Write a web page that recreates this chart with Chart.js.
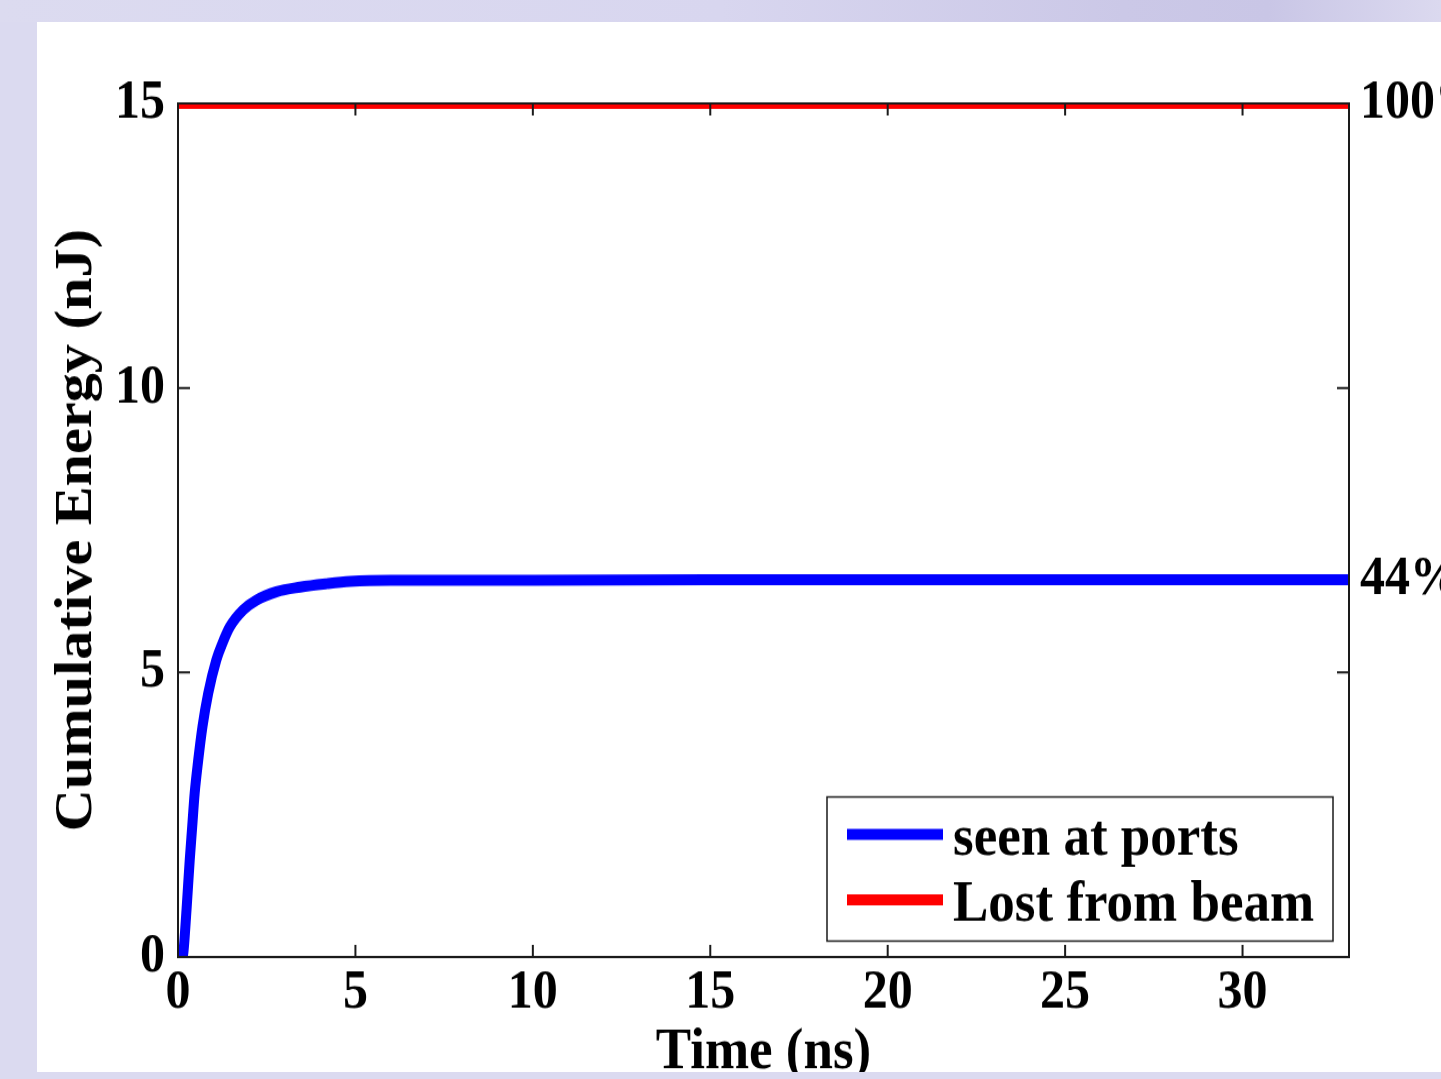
<!DOCTYPE html>
<html lang="en">

<head>
    <meta charset="UTF-8">
    <meta name="viewport" content="width=device-width, initial-scale=1.0">
    <title>Cumulative Energy</title>
    <script src="https://cdn.jsdelivr.net/npm/chart.js"></script>
    <style>
        body {
            margin: 0;
            width: 1441px;
            height: 1079px;
            overflow: hidden;
            position: relative;
            background: #dbdaf0;
        }

        .faixa {
            position: absolute;
            left: 0;
            top: 0;
            width: 1441px;
            height: 22px;
            background: linear-gradient(to right, #dcdbf0 0%, #d8d6ef 50%, #cbc8e7 78%, #c9c6e6 88%, #dbd9ef 100%);
        }

        .painel {
            position: absolute;
            left: 37px;
            top: 22px;
            width: 1404px;
            height: 1050px;
            background: #fff;
            overflow: hidden;
        }

        /* the figure text is a little taller than wide, so the whole plot is stretched */
        .esticado {
            position: absolute;
            left: 0;
            top: 0;
            transform: scaleY(1.1);
            transform-origin: 0 0;
        }
    </style>
</head>

<body>
    <div class="faixa"></div>
    <div class="painel">
        <div class="esticado">
            <canvas id="energia" width="1404" height="980"></canvas>
        </div>
    </div>
</body>

</html>
<script>
    // energy seen at the ports (nJ) against time (ns)
    const timeNs = [0.12, 0.15, 0.24, 0.33, 0.40, 0.47, 0.57, 0.69, 0.85, 1.08, 1.25, 1.46, 1.84, 2.21, 2.78, 3.44, 4.19, 4.85, 6, 8, 10, 15, 20, 25, 30, 33];
    const portsEnergy = [0, 0.07, 0.83, 1.70, 2.29, 2.88, 3.46, 4.05, 4.63, 5.22, 5.51, 5.80, 6.10, 6.27, 6.42, 6.50, 6.56, 6.60, 6.62, 6.62, 6.62, 6.63, 6.63, 6.63, 6.63, 6.63];

    // energy lost from the beam (nJ)
    const beamTime = [0, 33];
    const beamEnergy = [15, 15];

    const xTicks = [0, 5, 10, 15, 20, 25, 30];
    const yTicks = [0, 5, 10, 15];
    const seriesNames = ['seen at ports', 'Lost from beam'];
    const seriesColors = ['#0000ff', '#ff0000'];

    const total = beamEnergy[beamEnergy.length - 1];
    const pctTicks = [total, portsEnergy[portsEnergy.length - 1]];

    const serif = 'Liberation Serif, Times New Roman, serif';
    const tickFont = { family: serif, size: 50, weight: 'bold' };
    const titleFont = { family: serif, size: 53, weight: 'bold' };

    function pares(xs, ys) {
        return xs.map((t, i) => ({ x: t, y: ys[i] }));
    }

    // box round the axes with the ticks pointing inwards
    const moldura = {
        id: 'moldura',
        afterDatasetsDraw(chart) {
            const { ctx, chartArea: a, scales } = chart;
            ctx.save();
            ctx.strokeStyle = '#1a1a1a';
            ctx.lineWidth = 2;
            ctx.beginPath();
            xTicks.forEach(v => {
                const px = scales.x.getPixelForValue(v);
                ctx.moveTo(px, a.bottom);
                ctx.lineTo(px, a.bottom - 11);
                ctx.moveTo(px, a.top);
                ctx.lineTo(px, a.top + 11);
            });
            yTicks.forEach(v => {
                const py = scales.y.getPixelForValue(v);
                ctx.moveTo(a.left, py);
                ctx.lineTo(a.left + 12, py);
                ctx.moveTo(a.right, py);
                ctx.lineTo(a.right - 12, py);
            });
            ctx.stroke();
            ctx.strokeRect(a.left, a.top, a.width, a.height);
            ctx.restore();
        }
    };

    // legend box in the lower right corner
    const legenda = {
        id: 'legenda',
        afterDraw(chart) {
            const { ctx, chartArea: a } = chart;
            const w = 506, h = 131;
            const left = a.right - 16 - w;
            const top = a.bottom - 14.5 - h;
            ctx.save();
            ctx.fillStyle = '#fff';
            ctx.fillRect(left, top, w, h);
            ctx.strokeStyle = '#1a1a1a';
            ctx.lineWidth = 1.5;
            ctx.strokeRect(left, top, w, h);
            ctx.font = 'bold 53px ' + serif;
            ctx.textBaseline = 'alphabetic';
            ctx.textAlign = 'left';
            const rows = [34, 93.5];
            seriesNames.forEach((nome, i) => {
                const yy = top + rows[i];
                ctx.strokeStyle = seriesColors[i];
                ctx.lineWidth = 10;
                ctx.beginPath();
                ctx.moveTo(left + 20, yy);
                ctx.lineTo(left + 116, yy);
                ctx.stroke();
                ctx.fillStyle = '#000';
                ctx.fillText(nome, left + 126, yy + 18.5);
            });
            ctx.restore();
        }
    };

    new Chart(document.getElementById('energia'), {
        type: 'line',
        data: {
            datasets: [{
                label: seriesNames[0],
                data: pares(timeNs, portsEnergy),
                borderColor: seriesColors[0],
                borderWidth: 10,
                pointRadius: 0,
                cubicInterpolationMode: 'monotone',
                clip: 0
            }, {
                label: seriesNames[1],
                data: pares(beamTime, beamEnergy),
                borderColor: seriesColors[1],
                borderWidth: 10,
                pointRadius: 0,
                clip: 0
            }]
        },
        options: {
            responsive: false,
            animation: false,
            layout: { padding: { top: 74, left: 0, right: 0, bottom: 0 } },
            plugins: {
                legend: { display: false },
                tooltip: { enabled: false }
            },
            scales: {
                x: {
                    type: 'linear',
                    position: 'bottom',
                    min: 0,
                    max: 33,
                    grid: { display: false, drawTicks: false },
                    border: { display: false },
                    afterBuildTicks: s => { s.ticks = xTicks.map(v => ({ value: v })); },
                    afterFit: s => { s.height = 130; },
                    ticks: { font: tickFont, color: '#000', padding: 3, maxRotation: 0, autoSkip: false },
                    title: { display: true, text: 'Time (ns)', font: titleFont, color: '#000', padding: { top: 0, bottom: 11 } }
                },
                y: {
                    position: 'left',
                    min: 0,
                    max: 15,
                    grid: { display: false, drawTicks: false },
                    border: { display: false },
                    afterBuildTicks: s => { s.ticks = yTicks.map(v => ({ value: v })); },
                    afterFit: s => { s.width = 141; },
                    ticks: { font: tickFont, color: '#000', padding: 13 },
                    title: { display: true, text: 'Cumulative Energy (nJ)', font: titleFont, color: '#000', padding: { top: 9, bottom: 0 } }
                },
                y1: {
                    position: 'right',
                    min: 0,
                    max: 15,
                    grid: { display: false, drawTicks: false },
                    border: { display: false },
                    afterBuildTicks: s => { s.ticks = pctTicks.map(v => ({ value: v })); },
                    afterFit: s => { s.width = 92; },
                    ticks: {
                        font: tickFont,
                        color: '#000',
                        padding: 11,
                        callback: v => Math.round(v / total * 100) + '%'
                    }
                }
            }
        },
        plugins: [moldura, legenda]
    });
</script>
